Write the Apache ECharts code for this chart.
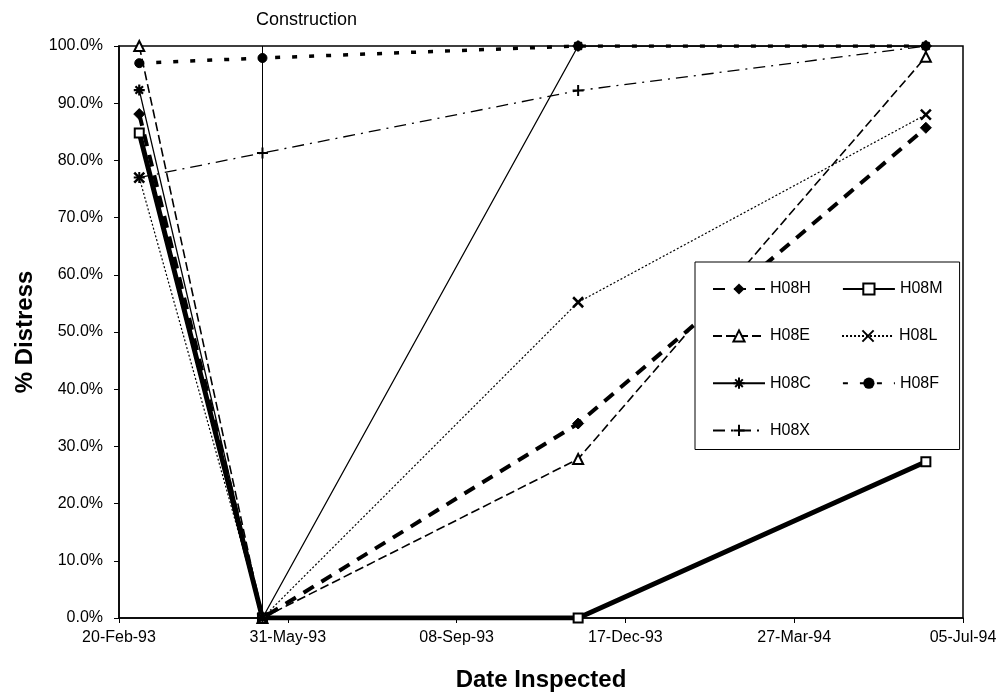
<!DOCTYPE html>
<html>
<head>
<meta charset="utf-8">
<script src="https://cdn.jsdelivr.net/npm/echarts@6/dist/echarts.min.js"></script>
<style>html,body{margin:0;padding:0;background:#fff}#c{width:1001px;height:698px}</style>
</head>
<body>
<div id="c"></div>
<script>
// Inspection dates and % distress values
const inspectionDates = ['1993-03-04', '1993-05-16', '1993-11-19', '1994-06-13'];
const constructionDate = '1993-05-16';
const axisStartDate = '1993-02-20';
const tickStepDays = 100;
const axisSpanDays = 500;

const H08H = [88.1, 0, 34.0, 85.7];
const H08M = [84.8, 0, 0, 27.3];
const H08E = [100, 0, 27.8, 98.1];
const H08L = [77.0, 0, 55.2, 88.0];
const H08C = [92.3, 0, 100, 100];
const H08F = [97.0, 97.9, 100, 100];
const H08X = [77.0, 81.3, 92.2, 100];

const MONTHS = ['Jan','Feb','Mar','Apr','May','Jun','Jul','Aug','Sep','Oct','Nov','Dec'];
const DAY = 86400000;
const t0 = Date.parse(axisStartDate + 'T00:00:00Z');
const dayOf = s => Math.round((Date.parse(s + 'T00:00:00Z') - t0) / DAY);
const fmtDay = d => {
  const dt = new Date(t0 + d * DAY);
  const dd = String(dt.getUTCDate()).padStart(2, '0');
  const yy = String(dt.getUTCFullYear()).slice(2);
  return dd + '-' + MONTHS[dt.getUTCMonth()] + '-' + yy;
};
const xs = inspectionDates.map(dayOf);
const pts = vals => vals.map((v, i) => [xs[i], v]);

const SYM_X = 'path://M0,0L10,10M10,0L0,10';
const SYM_AST = 'path://M5,0L5,10M0,5L10,5M1.6,1.6L8.4,8.4M8.4,1.6L1.6,8.4';
const SYM_PLUS = 'path://M5,0L5,10M0,5L10,5';

function mk(name, vals, line, sym, symSize, item) {
  return {
    name, type: 'line', data: pts(vals), symbol: sym, symbolSize: symSize,
    showAllSymbol: true,
    lineStyle: Object.assign({ color: '#000' }, line),
    itemStyle: Object.assign({ color: '#000', borderColor: '#000' }, item || {}),
    emphasis: { disabled: true },
    animation: false
  };
}

const series = [
  mk('H08H', H08H, { width: 4, type: [12, 9] }, 'diamond', 11),
  mk('H08M', H08M, { width: 5, type: 'solid' }, 'rect', 9, { color: '#fff', borderWidth: 2 }),
  mk('H08E', H08E, { width: 1.6, type: [9, 4] }, 'triangle', 10, { color: '#fff', borderWidth: 2 }),
  mk('H08L', H08L, { width: 1.2, type: [2, 2] }, SYM_X, 10, { color: 'none', borderWidth: 2.5 }),
  mk('H08C', H08C, { width: 1.3, type: 'solid' }, SYM_AST, 11, { color: 'none', borderWidth: 2.2 }),
  mk('H08F', H08F, { width: 3.5, type: [5, 12] }, 'circle', 9),
  mk('H08X', H08X, { width: 1.3, type: [12, 6, 2, 6] }, SYM_PLUS, 11, { color: 'none', borderWidth: 2 })
];

series[4].markLine = {
  silent: true, symbol: 'none', animation: false,
  lineStyle: { color: '#000', width: 1, type: 'solid' },
  label: { show: true, formatter: 'Construction', position: 'end', color: '#000',
           fontFamily: 'Liberation Sans', fontSize: 18, offset: [44, -12] },
  data: [{ xAxis: dayOf(constructionDate) }]
};

const chart = echarts.init(document.getElementById('c'), null, { renderer: 'canvas' });
chart.setOption({
  backgroundColor: '#fff',
  animation: false,
  textStyle: { fontFamily: 'Liberation Sans', color: '#000' },
  grid: { left: 119, right: 38, top: 46, bottom: 80, show: true, borderColor: '#000', borderWidth: 1.5, backgroundColor: 'transparent' },
  legend: {
    left: 695, top: 262, width: 240,
    padding: [19, 17, 11, 17],
    itemGap: 31, itemWidth: 52, itemHeight: 14,
    backgroundColor: '#fff', borderColor: '#000', borderWidth: 1,
    textStyle: { fontSize: 16, color: '#000', fontFamily: 'Liberation Sans' },
    data: ['H08H', 'H08M', 'H08E', 'H08L', 'H08C', 'H08F', 'H08X']
  },
  xAxis: {
    type: 'value', min: 0, max: axisSpanDays, interval: tickStepDays,
    name: 'Date Inspected', nameLocation: 'middle', nameGap: 50,
    nameTextStyle: { fontSize: 24, fontWeight: 'bold', color: '#000', fontFamily: 'Liberation Sans' },
    axisLine: { lineStyle: { color: '#000', width: 1.5 } },
    axisTick: { show: true, length: 5, lineStyle: { color: '#000' } },
    axisLabel: { formatter: fmtDay, fontSize: 16, color: '#000', margin: 12 },
    splitLine: { show: false }
  },
  yAxis: {
    type: 'value', min: 0, max: 100, interval: 10,
    name: '% Distress', nameLocation: 'middle', nameGap: 80, nameRotate: 90,
    nameTextStyle: { fontSize: 24, fontWeight: 'bold', color: '#000', fontFamily: 'Liberation Sans' },
    axisLine: { show: true, lineStyle: { color: '#000', width: 1.5 } },
    axisTick: { show: true, length: 5, lineStyle: { color: '#000' } },
    axisLabel: { formatter: v => v.toFixed(1) + '%', fontSize: 16, color: '#000', margin: 16 },
    splitLine: { show: false }
  },
  series
});
</script>
</body>
</html>
